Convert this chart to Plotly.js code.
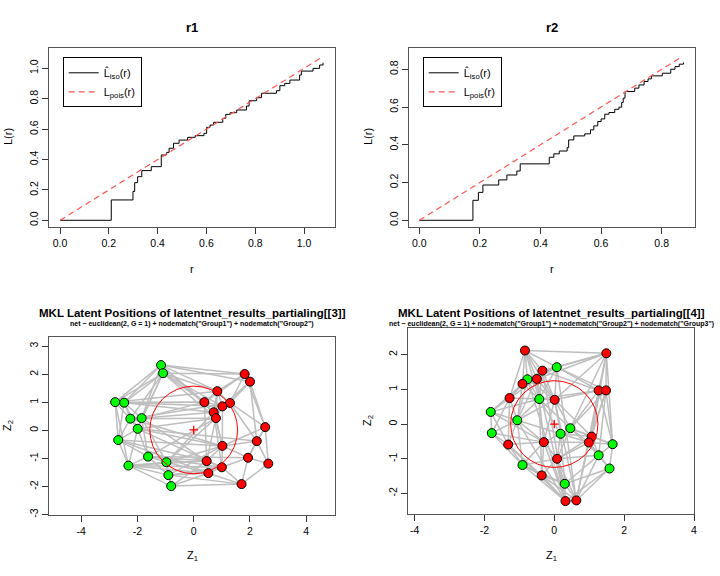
<!DOCTYPE html>
<html><head><meta charset="utf-8">
<script src="https://cdn.plot.ly/plotly-3.0.1.min.js"></script>
<style>html,body{margin:0;padding:0;background:#fff}#chart{width:720px;height:576px}</style>
</head><body><div id="chart"></div>
<script>
// ---- K-function (L) estimates ----
const r1_r = [0, 0.210, 0.299, 0.306, 0.318, 0.335, 0.374, 0.415, 0.437, 0.447, 0.465, 0.488, 0.523, 0.554, 0.590, 0.601, 0.615, 0.629, 0.667, 0.679, 0.697, 0.724, 0.764, 0.775, 0.806, 0.826, 0.887, 0.901, 0.921, 0.942, 0.982, 0.989, 1.037, 1.064, 1.078];
const r1_iso = [0, 0.134, 0.19, 0.248, 0.287, 0.327, 0.353, 0.43, 0.447, 0.474, 0.507, 0.528, 0.546, 0.557, 0.572, 0.612, 0.627, 0.645, 0.671, 0.697, 0.708, 0.726, 0.752, 0.787, 0.807, 0.836, 0.853, 0.886, 0.901, 0.923, 0.956, 0.982, 1.0, 1.022, 1.037];
const r1_pois_r = [0, 1.072];
const r1_pois = [0, 1.072];

const r2_r = [0, 0.177, 0.195, 0.210, 0.262, 0.289, 0.322, 0.333, 0.429, 0.444, 0.462, 0.488, 0.493, 0.510, 0.546, 0.565, 0.576, 0.589, 0.600, 0.612, 0.626, 0.645, 0.659, 0.668, 0.673, 0.679, 0.711, 0.725, 0.742, 0.755, 0.766, 0.802, 0.830, 0.844, 0.858, 0.872];
const r2_iso = [0, 0.106, 0.148, 0.187, 0.214, 0.240, 0.261, 0.299, 0.334, 0.352, 0.367, 0.385, 0.426, 0.447, 0.458, 0.479, 0.5, 0.523, 0.537, 0.562, 0.571, 0.588, 0.599, 0.624, 0.647, 0.682, 0.700, 0.717, 0.735, 0.749, 0.765, 0.779, 0.8, 0.814, 0.827, 0.836];
const r2_pois_r = [0, 0.865];
const r2_pois = [0, 0.865];

// ---- Latent positions, network 3 (first 13 green, then 17 red) ----
const n3_x = [-1.16, -1.09, -2.79, -2.47, -2.25, -1.85, -1.99, -2.68, -1.62, -2.32, -0.97, -0.90, -0.80,
  1.81, 2.00, 0.84, 0.38, 1.29, 1.02, 0.71, 0.79, 2.54, 2.24, 1.02, 1.93, 2.65, 0.46, 1.00, 0.52, 1.70];
const n3_y = [2.33, 2.04, 1.01, 0.99, 0.42, 0.44, 0.06, -0.34, -0.93, -1.25, -1.13, -1.59, -1.98,
  2.01, 1.74, 1.40, 1.01, 0.98, 0.86, 0.65, 0.44, 0.12, -0.38, -0.55, -0.97, -1.18, -1.09, -1.31, -1.52, -1.91];
const n3_group = ["G","G","G","G","G","G","G","G","G","G","G","G","G",
  "R","R","R","R","R","R","R","R","R","R","R","R","R","R","R","R","R"];
const n3_edges = [[0,1],[0,2],[0,3],[0,5],[1,2],[1,3],[1,4],[1,5],[1,6],[2,3],[2,4],[2,7],[3,4],[3,5],[3,6],[3,7],[4,5],[4,6],[4,7],[5,6],[5,8],[6,7],[6,8],[6,9],[7,8],[7,9],[8,9],[8,10],[8,11],[9,10],[9,11],[9,12],[10,11],[10,12],[11,12],[5,10],[2,9],
  [13,14],[13,15],[13,17],[13,16],[14,17],[14,18],[14,21],[15,16],[15,17],[15,18],[15,19],[16,18],[16,19],[16,20],[17,18],[17,21],[18,19],[18,20],[19,20],[19,23],[20,23],[20,26],[21,22],[21,24],[21,25],[22,24],[22,25],[22,23],[23,24],[23,26],[23,27],[24,25],[24,27],[24,29],[25,29],[26,27],[26,28],[27,28],[27,29],[28,29],[17,22],[18,23],[15,20],[16,26],[14,22],[19,27],[21,23],[13,21],
  [0,13],[0,14],[0,15],[1,13],[1,16],[1,15],[0,19],[1,18],[3,16],[3,19],[2,15],[4,20],[4,23],[5,16],[5,19],[5,26],[6,20],[6,23],[6,27],[7,26],[7,23],[8,26],[8,27],[8,20],[9,26],[9,28],[10,26],[10,23],[10,28],[10,19],[11,28],[11,27],[11,29],[12,29],[12,28],[12,26],[4,17],[2,16],[3,18],[6,22],[8,24],[7,28],[11,23],[9,27],[10,20],[0,16],[1,20]];
const n3_center = [0, 0.02];
const n3_radius = 1.56;

// ---- Latent positions, network 4 ----
const n4_x = [0.07, -0.77, -0.43, -1.82, -1.06, -1.79, 0.46, 0.18, 1.67, 1.27, -0.91, 1.58, 0.30,
  -0.84, 1.49, -0.34, -0.50, -0.91, 1.27, 1.48, -1.28, 0.01, 1.07, 0.99, -1.32, -0.30, 0.08, -0.36, 0.32, 0.63];
const n4_y = [1.64, 1.29, 0.72, 0.35, 0.11, -0.26, -0.12, -0.28, -0.58, -0.90, -1.18, -1.28, -1.72,
  2.12, 2.04, 1.54, 1.30, 1.16, 0.97, 0.97, 0.75, 0.70, -0.36, -0.53, -0.59, -0.52, -1.00, -1.48, -2.22, -2.20];
const n4_group = ["G","G","G","G","G","G","G","G","G","G","G","G","G",
  "R","R","R","R","R","R","R","R","R","R","R","R","R","R","R","R","R"];
const n4_edges = [[13,14],[13,15],[13,16],[13,17],[13,1],[13,0],[13,21],[13,2],[13,20],
  [14,0],[14,18],[14,19],[14,21],[14,15],[14,16],[14,22],[14,8],[14,6],
  [0,15],[0,16],[0,1],[0,21],[0,18],[0,19],[0,2],
  [1,15],[1,16],[1,17],[1,20],[1,2],[1,21],[1,4],
  [15,16],[15,17],[15,21],[15,18],[15,2],
  [16,17],[16,2],[16,21],[16,20],[16,4],
  [17,20],[17,2],[17,4],[17,3],
  [18,19],[18,21],[18,22],[18,23],[18,6],[18,8],[18,2],
  [19,8],[19,22],[19,6],[19,9],[19,23],
  [20,3],[20,4],[20,5],[20,2],[20,24],
  [21,2],[21,6],[21,7],[21,25],[21,22],[21,4],
  [2,4],[2,6],[2,7],[2,25],[2,3],
  [3,4],[3,5],[3,24],[3,25],
  [4,5],[4,24],[4,25],[4,7],[4,10],
  [5,24],[5,10],[5,25],
  [6,7],[6,22],[6,23],[6,26],[6,9],[6,8],
  [7,25],[7,26],[7,23],[7,12],[7,22],
  [8,22],[8,9],[8,11],[8,23],
  [9,22],[9,23],[9,11],[9,12],[9,26],[9,29],
  [10,24],[10,27],[10,28],[10,26],[10,25],[10,12],
  [11,29],[11,12],[11,23],[11,28],
  [12,26],[12,27],[12,28],[12,29],
  [22,23],[22,26],[23,26],[23,25],[23,29],
  [24,25],[24,27],[24,28],[25,26],[25,27],[25,28],
  [26,27],[26,28],[26,29],[27,28],[27,29],[28,29],
  [28,15],[29,21],[28,16],[29,0],[28,4],[29,18],[28,1],[27,2]];
const n4_center = [0, 0];
const n4_radius = 1.25;

// ---- tick labels ----
const tl_r1 = ["0.0","0.2","0.4","0.6","0.8","1.0"];
const tv_r1 = [0,0.2,0.4,0.6,0.8,1.0];
const tl_r2 = ["0.0","0.2","0.4","0.6","0.8"];
const tv_r2 = [0,0.2,0.4,0.6,0.8];
const tl_z1 = ["-4","-2","0","2","4"];
const tv_z1 = [-4,-2,0,2,4];
const tl_z2a = ["-3","-2","-1","0","1","2","3"];
const tv_z2a = [-3,-2,-1,0,1,2,3];
const tl_z2b = ["-2","-1","0","1","2"];
const tv_z2b = [-2,-1,0,1,2];

const FONT = "Liberation Sans, Arial, Helvetica, sans-serif";
const GREEN = "#00FF00", RED = "#FF0000";

function edgeTrace(xs, ys, edges, xa, ya) {
  const ex = [], ey = [];
  edges.forEach(([a, b]) => { ex.push(xs[a], xs[b], null); ey.push(ys[a], ys[b], null); });
  return {x: ex, y: ey, xaxis: xa, yaxis: ya, mode: "lines", type: "scatter",
    line: {color: "#BEBEBE", width: 1.5}, hoverinfo: "skip", showlegend: false};
}
function nodeTrace(xs, ys, groups, xa, ya) {
  return {x: xs, y: ys, xaxis: xa, yaxis: ya, mode: "markers", type: "scatter", showlegend: false,
    marker: {size: 9, color: groups.map(g => g === "G" ? GREEN : RED), line: {color: "#000", width: 1}}};
}
function centerTrace(c, xa, ya) {
  return {x: [c[0]], y: [c[1]], xaxis: xa, yaxis: ya, mode: "markers", type: "scatter", showlegend: false,
    marker: {symbol: "cross-thin", size: 6, color: RED, line: {color: RED, width: 1.3}}};
}

const traces = [
  {x: r1_r, y: r1_iso, xaxis: "x", yaxis: "y", mode: "lines", line: {color: "#000", width: 1, shape: "hv"},
   name: "L\u0302<sub>iso</sub>(r)", legend: "legend"},
  {x: r1_pois_r, y: r1_pois, xaxis: "x", yaxis: "y", mode: "lines", line: {color: "#FF5555", width: 1.2, dash: "6px,4px"},
   name: "L<sub>pois</sub>(r)", legend: "legend"},
  {x: r2_r, y: r2_iso, xaxis: "x2", yaxis: "y2", mode: "lines", line: {color: "#000", width: 1, shape: "hv"},
   name: "L\u0302<sub>iso</sub>(r)", legend: "legend2"},
  {x: r2_pois_r, y: r2_pois, xaxis: "x2", yaxis: "y2", mode: "lines", line: {color: "#FF5555", width: 1.2, dash: "6px,4px"},
   name: "L<sub>pois</sub>(r)", legend: "legend2"},
  edgeTrace(n3_x, n3_y, n3_edges, "x3", "y3"),
  nodeTrace(n3_x, n3_y, n3_group, "x3", "y3"),
  centerTrace(n3_center, "x3", "y3"),
  edgeTrace(n4_x, n4_y, n4_edges, "x4", "y4"),
  nodeTrace(n4_x, n4_y, n4_group, "x4", "y4"),
  centerTrace(n4_center, "x4", "y4")
];

function ax(domain, range, tv, tl, anchor, isY) {
  return {domain: domain, range: range, anchor: anchor, tickvals: tv, ticktext: tl,
    showgrid: false, zeroline: false, showline: true, mirror: true, linecolor: "#555", linewidth: 1,
    ticks: "outside", ticklen: 6, tickcolor: "#333", tickwidth: 1,
    tickfont: {family: FONT, size: 10.5, color: "#000"}, tickangle: isY ? -90 : 0, fixedrange: true};
}
const px = v => v / 720, py = v => 1 - v / 576;
function ann(text, x, y, size, angle) {
  return {text: text, x: px(x), y: py(y), xref: "paper", yref: "paper", xanchor: "center", yanchor: "middle",
    showarrow: false, textangle: angle || 0, font: {family: FONT, size: size, color: "#000"}};
}

const layout = {
  width: 720, height: 576, margin: {l: 0, r: 0, t: 0, b: 0},
  paper_bgcolor: "#fff", plot_bgcolor: "#fff", font: {family: FONT, color: "#000"},
  xaxis: ax([px(49.3), px(335)], [-0.044, 1.127], tv_r1, tl_r1, "y", false),
  yaxis: ax([py(227.3), py(48.3)], [-0.046, 1.132], tv_r1, tl_r1, "x", true),
  xaxis2: ax([px(409.3), px(695)], [-0.033, 0.910], tv_r2, tl_r2, "y2", false),
  yaxis2: ax([py(227.3), py(48.3)], [-0.037, 0.911], tv_r2, tl_r2, "x2", true),
  xaxis3: ax([px(49.3), px(335)], [-5.13, 5.02], tv_z1, tl_z1, "y3", false),
  yaxis3: ax([py(515), py(337)], [-3.01, 3.33], tv_z2a, tl_z2a, "x3", true),
  xaxis4: ax([px(408.3), px(694)], [-4.18, 4.0], tv_z1, tl_z1, "y4", false),
  yaxis4: ax([py(514.3), py(328.3)], [-2.60, 2.76], tv_z2b, tl_z2b, "x4", true),
  legend: {x: px(62.7), y: py(57.3), xanchor: "left", yanchor: "top", bgcolor: "#fff",
    bordercolor: "#000", borderwidth: 1, font: {family: FONT, size: 11}, tracegroupgap: 2},
  legend2: {x: px(422.7), y: py(57.3), xanchor: "left", yanchor: "top", bgcolor: "#fff",
    bordercolor: "#000", borderwidth: 1, font: {family: FONT, size: 11}, tracegroupgap: 2},
  shapes: [
    {type: "circle", xref: "x3", yref: "y3", x0: n3_center[0] - n3_radius, x1: n3_center[0] + n3_radius,
     y0: n3_center[1] - n3_radius, y1: n3_center[1] + n3_radius, line: {color: RED, width: 1}},
    {type: "circle", xref: "x4", yref: "y4", x0: n4_center[0] - n4_radius, x1: n4_center[0] + n4_radius,
     y0: n4_center[1] - n4_radius, y1: n4_center[1] + n4_radius, line: {color: RED, width: 1}}
  ],
  annotations: [
    ann("<b>r1</b>", 192, 27, 13),
    ann("<b>r2</b>", 552, 27, 13),
    ann("r", 192, 269, 11),
    ann("r", 552, 269, 11),
    ann("L(r)", 8, 137, 11, -90),
    ann("L(r)", 368, 137, 11, -90),
    ann("<b>MKL Latent Positions of latentnet_results_partialing[[3]]</b>", 192, 313, 11.5),
    ann("<b>net ~ euclidean(2, G = 1) + nodematch(\"Group1\") + nodematch(\"Group2\")</b>", 192, 323.5, 7),
    ann("<b>MKL Latent Positions of latentnet_results_partialing[[4]]</b>", 551, 313, 11.5),
    ann("<b>net ~ euclidean(2, G = 1) + nodematch(\"Group1\") + nodematch(\"Group2\") + nodematch(\"Group3\")</b>", 551, 323.5, 7),
    ann("Z<sub>1</sub>", 192, 556, 11),
    ann("Z<sub>1</sub>", 551, 556, 11),
    ann("Z<sub>2</sub>", 8, 426, 11, -90),
    ann("Z<sub>2</sub>", 368, 421, 11, -90)
  ]
};

Plotly.newPlot("chart", traces, layout, {staticPlot: true, displayModeBar: false});
</script>
</body></html>
